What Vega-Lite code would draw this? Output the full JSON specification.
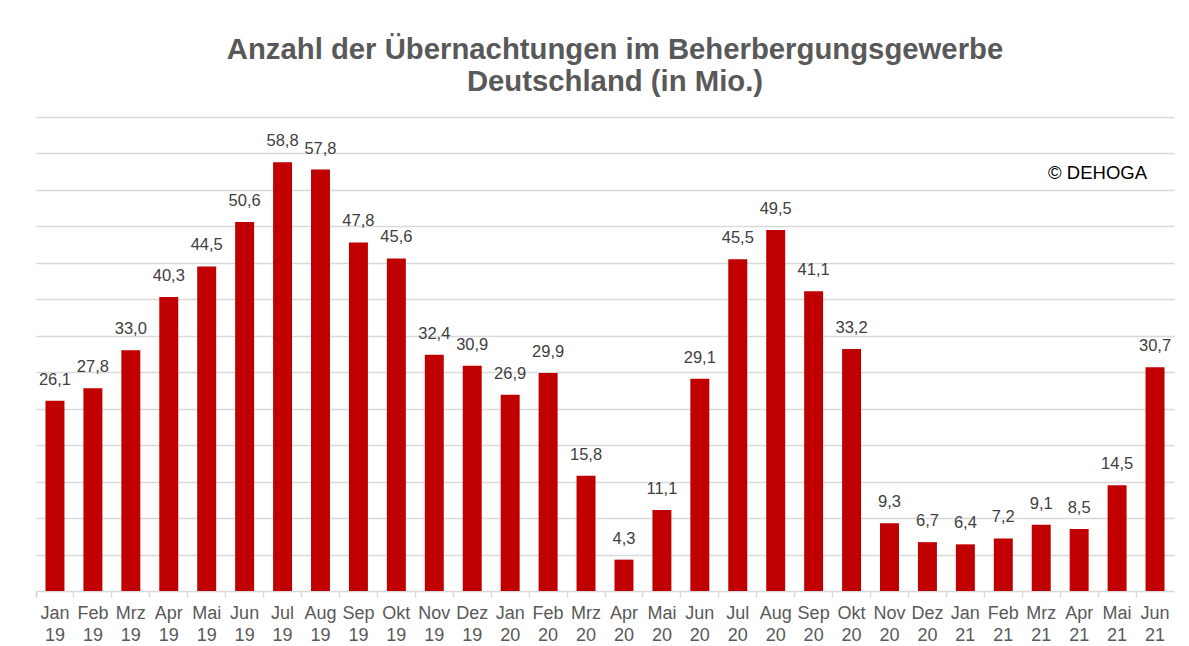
{
  "$schema": "https://vega.github.io/schema/vega-lite/v6.json",
  "width": 1138,
  "height": 474,
  "autosize": "none",
  "padding": {"left": 36, "top": 117, "right": 15, "bottom": 55},
  "background": "white",
  "config": {
    "locale": {"number": {"decimal": ",", "thousands": ".", "grouping": [3], "currency": ["", " €"]}},
    "view": {"stroke": null},
    "font": "Liberation Sans"
  },
  "title": {
    "text": ["Anzahl der Übernachtungen im Beherbergungsgewerbe", "Deutschland (in Mio.)"],
    "font": "Liberation Sans",
    "fontSize": 29.3,
    "fontWeight": "bold",
    "color": "#595959",
    "lineHeight": 32,
    "offset": 20,
    "anchor": "middle",
    "dx": 10
  },
  "data": {
    "values": [
      {"monat": "Jan 19", "wert": 26.1},
      {"monat": "Feb 19", "wert": 27.8},
      {"monat": "Mrz 19", "wert": 33.0},
      {"monat": "Apr 19", "wert": 40.3},
      {"monat": "Mai 19", "wert": 44.5},
      {"monat": "Jun 19", "wert": 50.6},
      {"monat": "Jul 19", "wert": 58.8},
      {"monat": "Aug 19", "wert": 57.8},
      {"monat": "Sep 19", "wert": 47.8},
      {"monat": "Okt 19", "wert": 45.6},
      {"monat": "Nov 19", "wert": 32.4},
      {"monat": "Dez 19", "wert": 30.9},
      {"monat": "Jan 20", "wert": 26.9},
      {"monat": "Feb 20", "wert": 29.9},
      {"monat": "Mrz 20", "wert": 15.8},
      {"monat": "Apr 20", "wert": 4.3},
      {"monat": "Mai 20", "wert": 11.1},
      {"monat": "Jun 20", "wert": 29.1},
      {"monat": "Jul 20", "wert": 45.5},
      {"monat": "Aug 20", "wert": 49.5},
      {"monat": "Sep 20", "wert": 41.1},
      {"monat": "Okt 20", "wert": 33.2},
      {"monat": "Nov 20", "wert": 9.3},
      {"monat": "Dez 20", "wert": 6.7},
      {"monat": "Jan 21", "wert": 6.4},
      {"monat": "Feb 21", "wert": 7.2},
      {"monat": "Mrz 21", "wert": 9.1},
      {"monat": "Apr 21", "wert": 8.5},
      {"monat": "Mai 21", "wert": 14.5},
      {"monat": "Jun 21", "wert": 30.7}
    ]
  },
  "encoding": {
    "x": {
      "field": "monat",
      "type": "nominal",
      "sort": null,
      "scale": {"paddingInner": 0, "paddingOuter": 0},
      "axis": {
        "title": null,
        "labelAngle": 0,
        "labelExpr": "split(datum.label, ' ')",
        "labelFont": "Liberation Sans",
        "labelFontSize": 18,
        "labelColor": "#595959",
        "labelLineHeight": 22,
        "labelPadding": 7,
        "bandPosition": 0,
        "tickExtra": true,
        "tickColor": "#d9d9d9",
        "tickWidth": 1.5,
        "tickSize": 6,
        "domainColor": "#d9d9d9",
        "domainWidth": 1.5,
        "grid": false
      }
    },
    "y": {
      "field": "wert",
      "type": "quantitative",
      "scale": {"domain": [0, 65], "nice": false},
      "axis": {
        "title": null,
        "labels": false,
        "ticks": false,
        "domain": false,
        "values": [5, 10, 15, 20, 25, 30, 35, 40, 45, 50, 55, 60, 65],
        "gridColor": "#d9d9d9",
        "gridWidth": 1.5
      }
    }
  },
  "layer": [
    {
      "mark": {"type": "bar", "color": "#c00000", "width": {"band": 0.5}}
    },
    {
      "mark": {"type": "text", "baseline": "alphabetic", "dy": -16, "fontSize": 16.5, "color": "#404040", "font": "Liberation Sans"},
      "encoding": {
        "text": {"field": "wert", "type": "quantitative", "format": ".1f"}
      }
    },
    {
      "data": {"values": [{"hinweis": "© DEHOGA", "monat": "Jun 21", "wert": 57.3}]},
      "mark": {"type": "text", "align": "right", "baseline": "middle", "dx": -8, "fontSize": 18.5, "color": "#000000", "font": "Liberation Sans"},
      "encoding": {
        "text": {"field": "hinweis", "type": "nominal"}
      }
    }
  ]
}
